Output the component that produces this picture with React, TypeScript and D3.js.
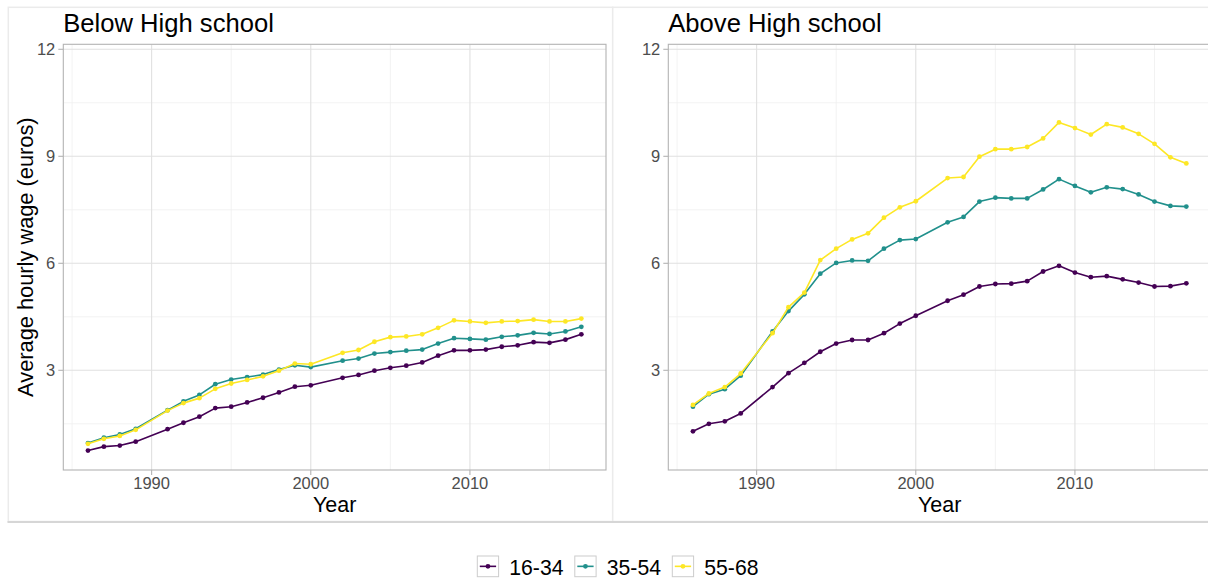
import React from "react";
import * as d3 from "d3";

const years = [1986, 1987, 1988, 1989, 1991, 1992, 1993, 1994, 1995, 1996, 1997, 1998, 1999, 2000,
  2002, 2003, 2004, 2005, 2006, 2007, 2008, 2009, 2010, 2011, 2012, 2013, 2014, 2015, 2016, 2017];

const ageGroups = ["16-34", "35-54", "55-68"];
const groupColors = ["#440154", "#21908C", "#FDE725"];

const belowYoung = [0.75, 0.86, 0.89, 1.00, 1.35, 1.53, 1.70, 1.94, 1.98, 2.10, 2.23, 2.38, 2.54, 2.58,
  2.79, 2.87, 2.99, 3.07, 3.13, 3.22, 3.41, 3.56, 3.56, 3.58, 3.66, 3.70, 3.79, 3.77, 3.86, 4.01];
const belowMid = [0.96, 1.11, 1.20, 1.36, 1.88, 2.13, 2.31, 2.61, 2.74, 2.81, 2.88, 3.02, 3.14, 3.09,
  3.27, 3.33, 3.47, 3.51, 3.55, 3.58, 3.75, 3.90, 3.88, 3.86, 3.94, 3.98, 4.05, 4.02, 4.09, 4.22];
const belowOld = [0.94, 1.08, 1.16, 1.33, 1.87, 2.08, 2.22, 2.48, 2.63, 2.73, 2.83, 2.99, 3.19, 3.17,
  3.49, 3.57, 3.80, 3.93, 3.95, 4.01, 4.19, 4.40, 4.37, 4.33, 4.37, 4.38, 4.42, 4.37, 4.37, 4.45];

const aboveYoung = [1.29, 1.50, 1.57, 1.79, 2.53, 2.92, 3.21, 3.52, 3.75, 3.85, 3.85, 4.04, 4.31, 4.53,
  4.95, 5.12, 5.35, 5.42, 5.43, 5.50, 5.77, 5.93, 5.74, 5.61, 5.64, 5.55, 5.46, 5.35, 5.36, 5.44];
const aboveMid = [1.98, 2.33, 2.47, 2.85, 4.09, 4.66, 5.13, 5.71, 6.01, 6.08, 6.07, 6.41, 6.65, 6.68,
  7.15, 7.30, 7.73, 7.84, 7.82, 7.82, 8.07, 8.36, 8.17, 7.99, 8.13, 8.08, 7.93, 7.73, 7.61, 7.59];
const aboveOld = [2.03, 2.35, 2.53, 2.91, 4.04, 4.77, 5.18, 6.09, 6.41, 6.67, 6.84, 7.28, 7.57, 7.74,
  8.39, 8.42, 8.99, 9.20, 9.20, 9.26, 9.50, 9.95, 9.79, 9.61, 9.90, 9.81, 9.63, 9.35, 8.97, 8.80];

const xTicks = [1990, 2000, 2010];
const xMinor = [1985, 1995, 2005, 2015];
const yTicks = [3, 6, 9, 12];
const yMinor = [1.5, 4.5, 7.5, 10.5];

const panelTitles = ["Below High school", "Above High school"];
const panelSeries = [
  [belowYoung, belowMid, belowOld],
  [aboveYoung, aboveMid, aboveOld],
];

const FONT = "'Liberation Sans', Arial, Helvetica, sans-serif";
const W = 1208;
const H = 582;
const TOP = 44.3;
const BOTTOM = 470;
const PANEL_W = 542.7;
const panelLefts = [63.3, 668.3];
const boxLefts = [8.3, 612.7];

const yScale = d3.scaleLinear().domain([0.205, 12.14]).range([BOTTOM, TOP]);

function Panel({ idx }: { idx: number }) {
  const left = panelLefts[idx];
  const right = left + PANEL_W;
  const x = d3.scaleLinear().domain([1984.45, 2018.55]).range([left, right]);
  const line = d3
    .line<[number, number]>()
    .x((d) => x(d[0]))
    .y((d) => yScale(d[1]));
  const series = panelSeries[idx];
  const clipId = `clip${idx}`;
  return (
    <g>
      <defs>
        <clipPath id={clipId}>
          <rect x={left} y={TOP} width={PANEL_W} height={BOTTOM - TOP} />
        </clipPath>
      </defs>
      <g clipPath={`url(#${clipId})`}>
        {yMinor.map((v) => (
          <line key={"ym" + v} x1={left} x2={right} y1={yScale(v)} y2={yScale(v)} stroke="#efefef" strokeWidth={0.8} />
        ))}
        {xMinor.map((v) => (
          <line key={"xm" + v} x1={x(v)} x2={x(v)} y1={TOP} y2={BOTTOM} stroke="#efefef" strokeWidth={0.8} />
        ))}
        {yTicks.map((v) => (
          <line key={"yM" + v} x1={left} x2={right} y1={yScale(v)} y2={yScale(v)} stroke="#e0e0e0" strokeWidth={1.1} />
        ))}
        {xTicks.map((v) => (
          <line key={"xM" + v} x1={x(v)} x2={x(v)} y1={TOP} y2={BOTTOM} stroke="#e0e0e0" strokeWidth={1.1} />
        ))}
        {series.map((vals, si) => {
          const pts: [number, number][] = years.map((yr, i) => [yr, vals[i]]);
          return (
            <g key={"s" + si}>
              <path d={line(pts) || ""} fill="none" stroke={groupColors[si]} strokeWidth={1.6} strokeLinejoin="round" />
              {pts.map((p, i) => (
                <circle key={i} cx={x(p[0])} cy={yScale(p[1])} r={2.4} fill={groupColors[si]} />
              ))}
            </g>
          );
        })}
      </g>
      <rect x={left} y={TOP} width={PANEL_W} height={BOTTOM - TOP} fill="none" stroke="#b3b3b3" strokeWidth={1.1} />
      {yTicks.map((v) => (
        <g key={"yt" + v}>
          <line x1={left - 5} x2={left} y1={yScale(v)} y2={yScale(v)} stroke="#b3b3b3" strokeWidth={1.1} />
          <text x={left - 8} y={yScale(v)} dy="0.35em" textAnchor="end" fontSize={16.5} fill="#4d4d4d" fontFamily={FONT}>
            {v}
          </text>
        </g>
      ))}
      {xTicks.map((v) => (
        <g key={"xt" + v}>
          <line x1={x(v)} x2={x(v)} y1={BOTTOM} y2={BOTTOM + 5} stroke="#b3b3b3" strokeWidth={1.1} />
          <text x={x(v)} y={489} textAnchor="middle" fontSize={16.5} fill="#4d4d4d" fontFamily={FONT}>
            {v}
          </text>
        </g>
      ))}
      <text x={left} y={32.3} fontSize={25.6} fill="#000" fontFamily={FONT}>
        {panelTitles[idx]}
      </text>
      <text x={(left + right) / 2} y={511.5} textAnchor="middle" fontSize={21.5} fill="#000" fontFamily={FONT}>
        Year
      </text>
      {idx === 0 && (
        <text
          transform={`translate(32.5, ${(TOP + BOTTOM) / 2}) rotate(-90)`}
          textAnchor="middle"
          fontSize={21.8}
          fill="#000"
          fontFamily={FONT}
        >
          Average hourly wage (euros)
        </text>
      )}
    </g>
  );
}

function Legend() {
  const startX = 477.3;
  const step = 97.5;
  const keyW = 21.3;
  const keyTop = 556;
  const keyH = 20.7;
  return (
    <g>
      {ageGroups.map((g, i) => {
        const kx = startX + i * step;
        const cy = keyTop + keyH / 2;
        return (
          <g key={g}>
            <rect x={kx} y={keyTop} width={keyW} height={keyH} fill="#fff" stroke="#cccccc" strokeWidth={1} />
            <line x1={kx + 2.5} x2={kx + keyW - 2.5} y1={cy} y2={cy} stroke={groupColors[i]} strokeWidth={1.6} />
            <circle cx={kx + keyW / 2} cy={cy} r={2.4} fill={groupColors[i]} />
            <text x={kx + keyW + 10.7} y={575} fontSize={21.2} fill="#000" fontFamily={FONT}>
              {g}
            </text>
          </g>
        );
      })}
    </g>
  );
}

export default function App() {
  return (
    <svg
      width={W}
      height={H}
      style={{ position: "absolute", left: 0, top: 0, background: "#fff" }}
    >
      <rect x={0} y={0} width={W} height={H} fill="#fff" />
      {boxLefts.map((bx, i) => (
        <rect key={"box" + i} x={bx} y={7.3} width={604.4} height={514.2} fill="#fff" stroke="#ebebeb" strokeWidth={1.5} />
      ))}
      <line x1={7.5} x2={W} y1={522} y2={522} stroke="#d6d6d6" strokeWidth={2} />
      <Panel idx={0} />
      <Panel idx={1} />
      <Legend />
    </svg>
  );
}
